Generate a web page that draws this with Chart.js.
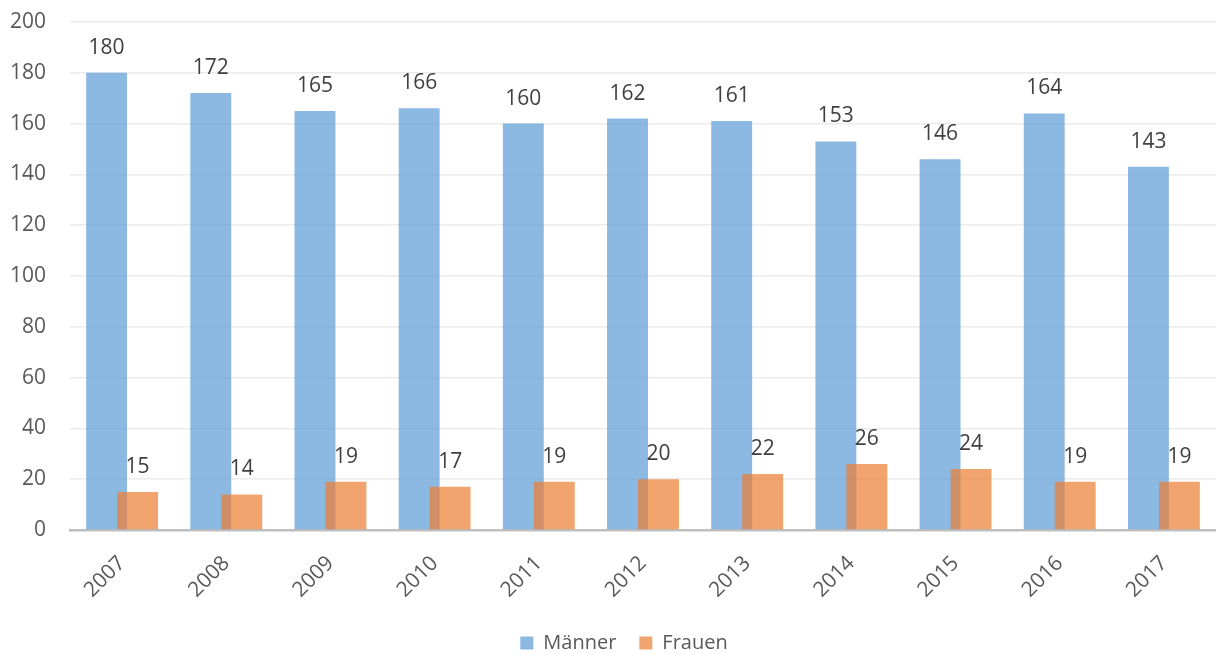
<!DOCTYPE html>
<html>
<head>
<meta charset="utf-8">
<script src="https://cdn.jsdelivr.net/npm/chart.js@4.4.1/dist/chart.umd.min.js"></script>
<style>
  html, body { margin: 0; padding: 0; background: #fff; }
  #wrap { width: 1216px; height: 655px; }
</style>
</head>
<body>
<div id="wrap"><canvas id="chart"></canvas></div>
<script>
const years = ['2007', '2008', '2009', '2010', '2011', '2012', '2013', '2014', '2015', '2016', '2017'];
const maenner = [180, 172, 165, 166, 160, 162, 161, 153, 146, 164, 143];
const frauen = [15, 14, 19, 17, 19, 20, 22, 26, 24, 19, 19];
const yTicks = [0, 20, 40, 60, 80, 100, 120, 140, 160, 180, 200];

const FONT = "'Open Sans', 'Noto Sans', sans-serif";

// draw datasets in forward order so Frauen overlaps Männer
const forwardDraw = {
    id: 'forwardDraw',
    afterLayout(chart) {
        // legend sits a bit right of centre in the original
        chart.legend.left += 16;
        chart.legend.right += 16;
    },
    beforeDatasetsDraw(chart) {
        chart.getSortedVisibleDatasetMetas().forEach(m => chart._drawDataset(m));
        return false;
    }
};

// value labels above bars
const valueLabels = {
    id: 'valueLabels',
    afterDraw(chart) {
        const ctx = chart.ctx;
        ctx.save();
        ctx.font = '21px ' + FONT;
        ctx.fillStyle = '#404040';
        ctx.textAlign = 'center';
        ctx.textBaseline = 'middle';
        chart.data.datasets.forEach((ds, i) => {
            chart.getDatasetMeta(i).data.forEach((bar, j) => {
                ctx.fillText(ds.data[j], bar.x, bar.y - 25);
            });
        });
        ctx.restore();
    }
};

new Chart(document.getElementById('chart'), {
    type: 'bar',
    data: {
        labels: years,
        datasets: [
            {
                label: 'Männer',
                data: maenner,
                backgroundColor: 'rgba(91,155,213,0.7)',
                categoryPercentage: 0.595,
                barPercentage: 1.32,
            },
            {
                label: 'Frauen',
                data: frauen,
                backgroundColor: 'rgba(237,125,49,0.7)',
                categoryPercentage: 0.595,
                barPercentage: 1.32,
            },
        ]
    },
    options: {
        responsive: true,
        maintainAspectRatio: false,
        animation: false,
        layout: { padding: { top: 22, right: 0, left: 0, bottom: -8 } },
        plugins: {
            legend: {
                position: 'bottom',
                labels: {
                    boxWidth: 13,
                    boxHeight: 13,
                    padding: 23,
                    color: '#595959',
                    font: { family: FONT, size: 20 }
                }
            },
            tooltip: { enabled: false }
        },
        scales: {
            x: {
                grid: { display: false, drawTicks: false },
                border: { color: '#bfbfbf', width: 2.5 },
                ticks: {
                    color: '#595959',
                    font: { family: FONT, size: 21 },
                    minRotation: 45,
                    maxRotation: 45,
                    padding: 21
                },
                afterFit(scale) { scale.height = 80; }
            },
            y: {
                min: 0,
                max: 200,
                grid: { color: '#ebebeb', lineWidth: 1.5, drawTicks: false },
                border: { display: false },
                afterBuildTicks(scale) { scale.ticks = yTicks.map(v => ({ value: v })); },
                ticks: {
                    color: '#595959',
                    font: { family: FONT, size: 21 },
                    padding: 24
                },
                afterFit(scale) {
                    scale.width = 70;
                    scale.paddingTop = 0;
                    scale.paddingBottom = 0;
                }
            }
        }
    },
    plugins: [forwardDraw, valueLabels]
});
</script>
</body>
</html>
